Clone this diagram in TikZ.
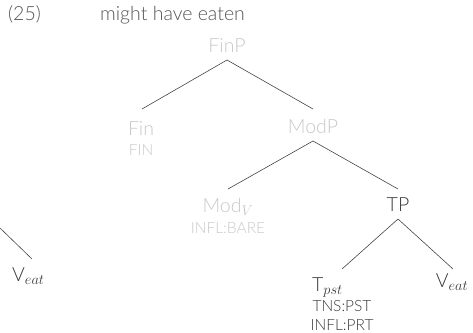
\documentclass[tikz,border=0pt]{standalone}
\usepackage{fontspec}
\setmainfont{Lato Light}
\usetikzlibrary{calc}
\definecolor{faded}{HTML}{C8C8C8}
\definecolor{ink}{HTML}{3A3A3A}
\definecolor{head}{HTML}{555555}
\definecolor{branch}{HTML}{444444}
\tikzset{
  lbl/.style={inner sep=0pt, anchor=base, font=\fontsize{19.5}{22}\selectfont},
  feat/.style={inner sep=0pt, anchor=base, font=\fontsize{15.5}{18}\selectfont},
  off/.style={text=faded},
  on/.style={text=ink},
  edge/.style={draw=branch, line width=0.6pt},
}
\begin{document}
\begin{tikzpicture}[x=1pt,y=-1pt]
\useasboundingbox (0,0) rectangle (473,332);
% example number and gloss
\node[lbl, anchor=base west, text=head] (num) at (8,20) {(25)};
\node[lbl, anchor=base west, text=head] (gloss) at (100,20) {might have eaten};
% tree nodes
\node[lbl, off] (finp) at (227,52) {FinP};
\node[lbl, off] (fin) at (141,135) {Fin};
\node[feat, off] (finf) at (141,155) {FIN};
\node[lbl, off] (modp) at (313,133) {ModP};
\node[lbl, off] (mod) at (228,212) {Mod$_{V}$};
\node[feat, off] (modf) at (228,233) {INFL:BARE};
\node[lbl, on] (tp) at (398,211) {TP};
\node[lbl, on, anchor=base west] (t) at (312,291) {T$_{pst}$};
\node[feat, on] (tf1) at (342,311) {TNS:PST};
\node[feat, on] (tf2) at (342,330) {INFL:PRT};
\node[lbl, on] (v) at (452,287) {V$_{eat}$};
% neighbouring tree, cut at the left edge
\node[lbl, on, anchor=base west] (vl) at (12,281) {V$_{eat}$};
\coordinate (cut) at (0,228);
% branches
\draw[edge] ($(finp.base)+(0,8)$) -- ($(fin.base)+(1,-26)$);
\draw[edge] ($(finp.base)+(0,8)$) -- ($(modp.base)+(0,-24)$);
\draw[edge] ($(modp.base)+(0,8)$) -- ($(mod.base)+(0,-23)$);
\draw[edge] ($(modp.base)+(0,8)$) -- ($(tp.base)+(0,-22)$);
\draw[edge] ($(tp.base)+(0,8)$) -- ($(tf1.base)+(0,-42)$);
\draw[edge] ($(tp.base)+(0,8)$) -- ($(v.base)+(1,-18)$);
\draw[edge] (cut) -- ($(vl.base west)+(20,-22)$);
\end{tikzpicture}
\end{document}
